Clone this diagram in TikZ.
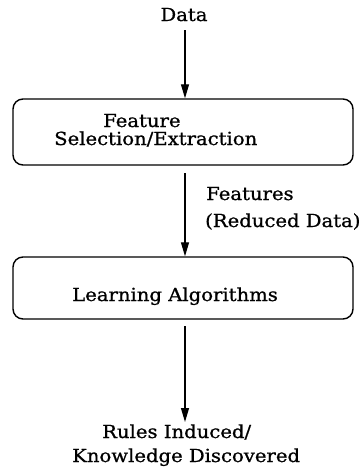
\documentclass[tikz,border=0pt]{standalone}
\usepackage{fontspec}
\setmainfont[FakeStretch=1.09,FakeBold=0.9]{DejaVu Serif}
\usetikzlibrary{arrows.meta}
\begin{document}
\begin{tikzpicture}[x=1pt,y=-1pt,
  txt/.style={font=\fontsize{18}{20}\selectfont, inner sep=0pt},
  box/.style={draw, line width=1.4pt, rounded corners=10pt, minimum width=340pt, inner sep=0pt},
  arr/.style={line width=1.2pt, -{Triangle[length=14pt,width=8pt]}}
]
\useasboundingbox (0,0) rectangle (362,469);
\node[txt, anchor=base] (data) at (184,21) {Data};
\coordinate (d0) at (185,30);
\node[box, minimum height=66pt] (b1) at (183,132) {};
\node[txt, anchor=base west] (t1a) at (103,127) {Feature};
\node[txt, anchor=base west] (t1b) at (54,145) {Selection/Extraction};
\node[txt, anchor=base west] (f1) at (206,200) {Features};
\node[txt, anchor=base west] (f2) at (205,227) {(Reduced Data)};
\node[box, minimum height=62pt] (b2) at (183,288) {};
\node[txt, anchor=base west] (t2) at (72,301) {Learning Algorithms};
\node[txt, anchor=base west] (o1) at (102,438) {Rules Induced/};
\node[txt, anchor=base west] (o2) at (72,462) {Knowledge Discovered};
\coordinate (c1) at (185,173);
\coordinate (c2) at (185,326);
\coordinate (c3) at (185,422);
\draw[arr] (d0) -- (d0 |- b1.north);
\draw[arr] (c1) -- (c1 |- b2.north);
\draw[arr] (c2) -- (c3);
\end{tikzpicture}
\end{document}
